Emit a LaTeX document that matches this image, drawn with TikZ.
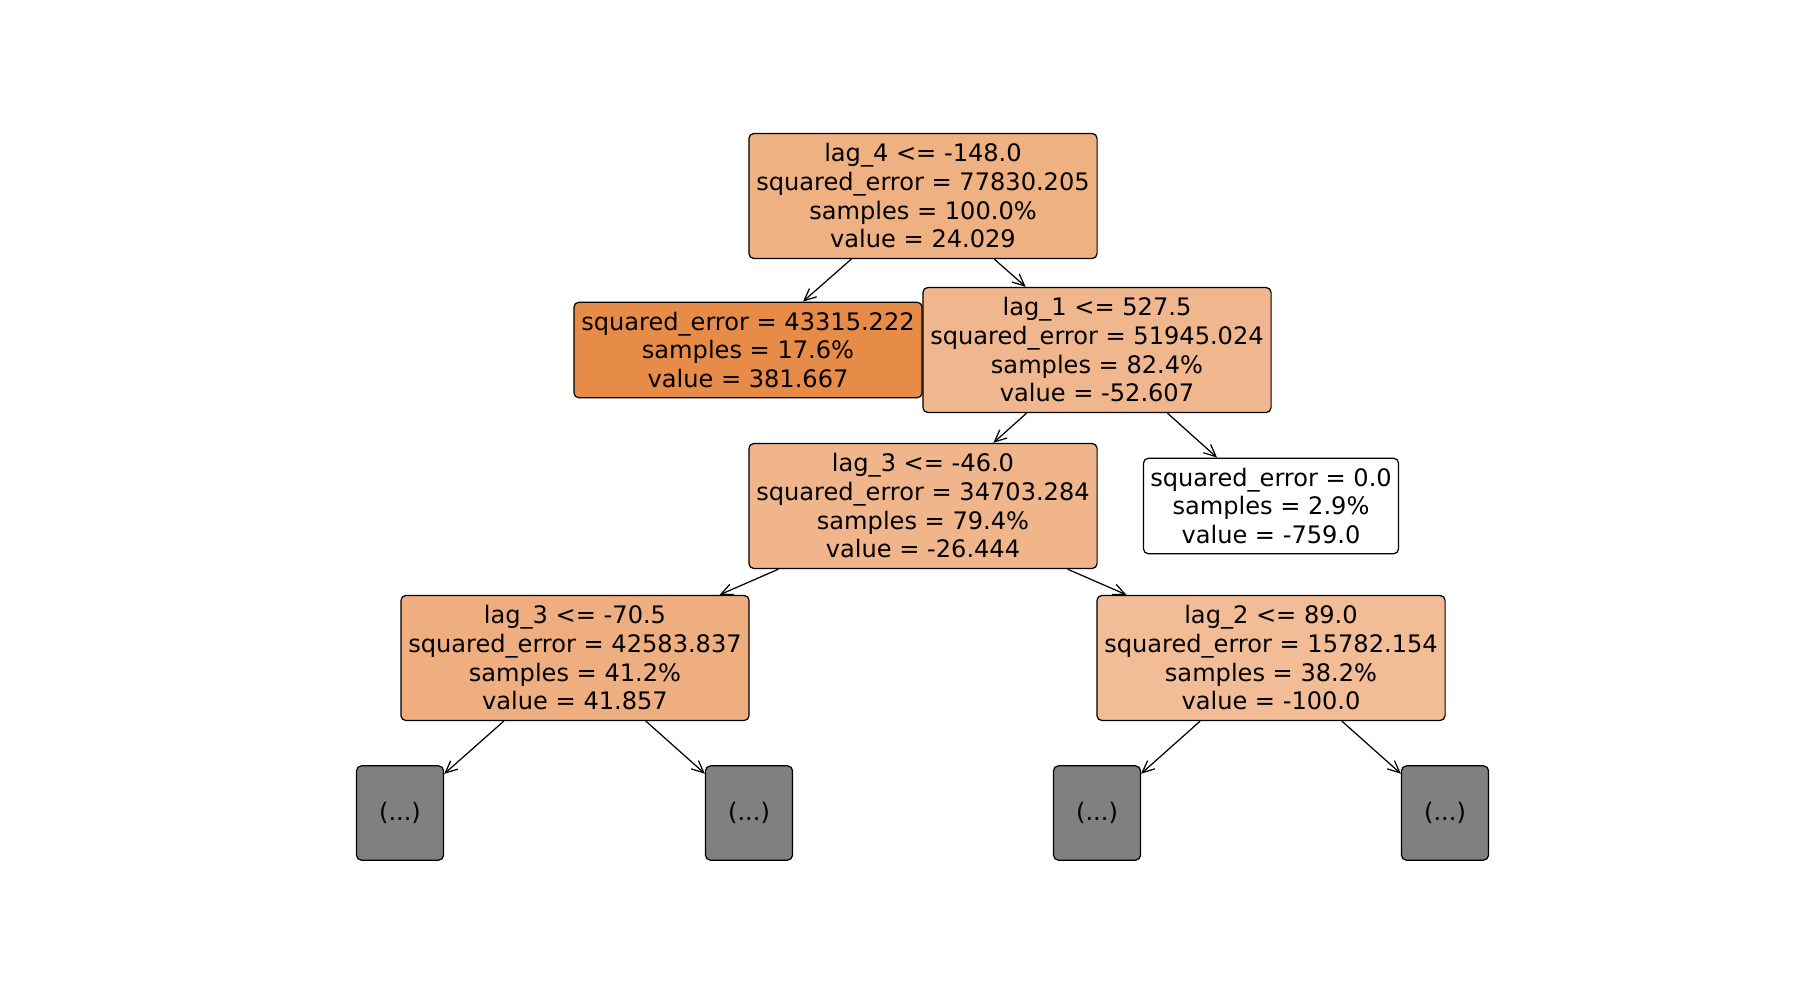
\documentclass[tikz,border=0pt]{standalone}
\usepackage{fontspec}
\setmainfont{DejaVu Sans}
\usetikzlibrary{arrows.meta}

\definecolor{rootfill}{RGB}{239,176,130}
\definecolor{leaffill}{RGB}{231,139,73}
\definecolor{lagonefill}{RGB}{240,183,142}
\definecolor{lagthreefill}{RGB}{240,181,138}
\definecolor{lagthreeleftfill}{RGB}{238,174,127}
\definecolor{lagtwofill}{RGB}{241,188,150}
\definecolor{cutfill}{RGB}{128,128,128}

\begin{document}
\begin{tikzpicture}[x = 0.01cm, y = -0.01cm,
    every node/.style = {shape = rectangle, rounded corners = 0.5mm, draw, line width = 0.35pt,
        align = center, inner sep = 0.6mm, font = \fontsize{6.85}{8.15}\selectfont},
    split/.style = {minimum width = 3.48cm, minimum height = 1.25cm},
    leaf/.style = {minimum height = 0.955cm},
    cut/.style = {fill = cutfill, minimum width = 0.87cm, minimum height = 0.943cm},
    link/.style = {-{Straight Barb[length = 1.2mm, width = 1.1mm]}, line width = 0.35pt}]
    \useasboundingbox (0,0) rectangle (1800,1000);
        \node[split, fill = rootfill] (root) at (923,196)
            {lag\_4 <= -148.0\\squared\_error = 77830.205\\samples = 100.0\%\\value = 24.029};
        \node[leaf, minimum width = 3.48cm, fill = leaffill] (left) at (748,350)
            {squared\_error = 43315.222\\samples = 17.6\%\\value = 381.667};
        \node[split, fill = lagonefill] (lagone) at (1097,350)
            {lag\_1 <= 527.5\\squared\_error = 51945.024\\samples = 82.4\%\\value = -52.607};
        \node[split, fill = lagthreefill] (lagthree) at (923,506)
            {lag\_3 <= -46.0\\squared\_error = 34703.284\\samples = 79.4\%\\value = -26.444};
        \node[leaf, minimum width = 2.55cm, fill = white] (right) at (1271,506)
            {squared\_error = 0.0\\samples = 2.9\%\\value = -759.0};
        \node[split, fill = lagthreeleftfill] (lagthreeb) at (575,658)
            {lag\_3 <= -70.5\\squared\_error = 42583.837\\samples = 41.2\%\\value = 41.857};
        \node[split, fill = lagtwofill] (lagtwo) at (1271,658)
            {lag\_2 <= 89.0\\squared\_error = 15782.154\\samples = 38.2\%\\value = -100.0};
        % truncated subtrees
        \node[cut] (cuta) at (400,813) {(...)};
        \node[cut] (cutb) at (749,813) {(...)};
        \node[cut] (cutc) at (1097,813) {(...)};
        \node[cut] (cutd) at (1445,813) {(...)};

        \draw[link] (root) -- (left);
        \draw[link] (root) -- (lagone);
        \draw[link] (lagone) -- (lagthree);
        \draw[link] (lagone) -- (right);
        \draw[link] (lagthree) -- (lagthreeb);
        \draw[link] (lagthree) -- (lagtwo);
        \draw[link] (lagthreeb) -- (cuta);
        \draw[link] (lagthreeb) -- (cutb);
        \draw[link] (lagtwo) -- (cutc);
        \draw[link] (lagtwo) -- (cutd);
\end{tikzpicture}
\end{document}
